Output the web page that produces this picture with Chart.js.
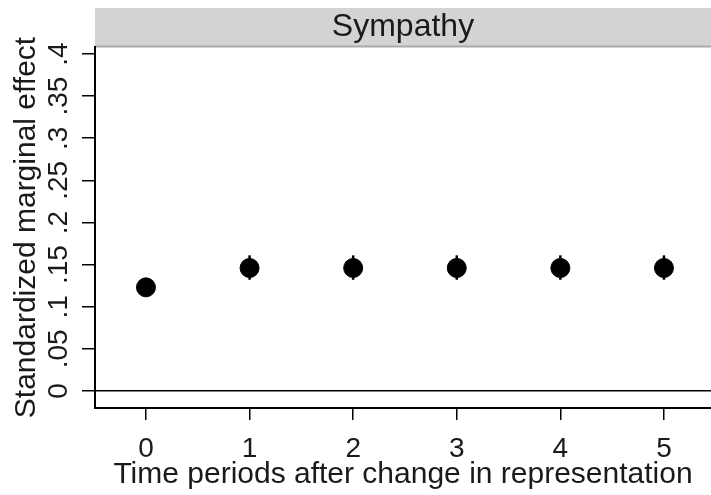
<!DOCTYPE html>
<html>
<head>
<meta charset="utf-8">
<script src="https://cdn.jsdelivr.net/npm/chart.js@4.4.0/dist/chart.umd.min.js"></script>
<style>
  html, body { margin: 0; padding: 0; background: #fff; }
  #wrap { width: 711px; height: 495px; }
</style>
</head>
<body>
<div id="wrap"><canvas id="chart" width="711" height="495"></canvas></div>
<script>
// Data
const periods = [0, 1, 2, 3, 4, 5];
const effect = [0.123, 0.146, 0.146, 0.146, 0.146, 0.146];
const lower = [0.119, 0.132, 0.132, 0.132, 0.132, 0.132];
const upper = [0.127, 0.161, 0.161, 0.161, 0.161, 0.161];
const yTicks = [0, 0.05, 0.1, 0.15, 0.2, 0.25, 0.3, 0.35, 0.4];
const yTickLabels = ["0", ".05", ".1", ".15", ".2", ".25", ".3", ".35", ".4"];
const panelTitle = "Sympathy";

const font = "Liberation Sans, Arial, sans-serif";
const ink = "#1a1a1a";

// Stata-like facet header above the plot region
const headerBand = {
  id: "headerBand",
  beforeDraw(chart) {
    const { ctx, chartArea } = chart;
    const w = chart.width - chartArea.left;
    ctx.save();
    ctx.fillStyle = "#d3d3d3";
    ctx.fillRect(chartArea.left, 8, w, 39);
    ctx.fillStyle = "#a9a9a9";
    ctx.fillRect(chartArea.left, 45.5, w, 2);
    ctx.fillStyle = ink;
    ctx.font = "32px " + font;
    ctx.textAlign = "center";
    ctx.textBaseline = "alphabetic";
    ctx.fillText(panelTitle, chartArea.left + w / 2, 36);
    ctx.restore();
  }
};

// rotated y tick labels + error bars
const extras = {
  id: "extras",
  afterDraw(chart) {
    const { ctx } = chart;
    const x = chart.scales.x, y = chart.scales.y;
    ctx.save();
    ctx.fillStyle = ink;
    ctx.font = "28px " + font;
    ctx.textAlign = "center";
    ctx.textBaseline = "alphabetic";
    yTicks.forEach((v, i) => {
      ctx.save();
      ctx.translate(67, y.getPixelForValue(v));
      ctx.rotate(-Math.PI / 2);
      ctx.fillText(yTickLabels[i], 0, 0);
      ctx.restore();
    });
    ctx.strokeStyle = "#000";
    ctx.lineWidth = 2.5;
    periods.forEach((p, i) => {
      const px = x.getPixelForValue(p);
      ctx.beginPath();
      ctx.moveTo(px, y.getPixelForValue(lower[i]));
      ctx.lineTo(px, y.getPixelForValue(upper[i]));
      ctx.stroke();
    });
    ctx.restore();
  }
};

new Chart(document.getElementById("chart"), {
  type: "scatter",
  data: {
    datasets: [{
      data: periods.map((p, i) => ({ x: p, y: effect[i] })),
      backgroundColor: "#000",
      borderColor: "#000",
      pointRadius: 9.5,
      pointHoverRadius: 9.5
    }]
  },
  options: {
    responsive: false,
    animation: false,
    events: [],
    layout: { autoPadding: false, padding: { top: 47, left: 0, right: 0, bottom: 0 } },
    plugins: { legend: { display: false }, tooltip: { enabled: false } },
    scales: {
      x: {
        type: "linear",
        min: -0.492,
        max: 5.454,
        afterBuildTicks: s => { s.ticks = periods.map(v => ({ value: v })); },
        afterFit: s => { s.height = 87; s.paddingLeft = 0; s.paddingRight = 0; },
        grid: { display: true, drawOnChartArea: false, color: "#000", tickLength: 12, lineWidth: 1.5 },
        border: { display: true, color: "#000", width: 2 },
        ticks: { color: ink, font: { family: font, size: 28 }, padding: 12 },
        title: { display: true, text: "Time periods after change in representation", color: ink,
                 font: { family: font, size: 30 }, padding: { top: 0, bottom: 2 } }
      },
      y: {
        min: -0.0202,
        max: 0.4083,
        afterBuildTicks: s => { s.ticks = yTicks.map(v => ({ value: v })); },
        afterFit: s => { s.width = 95; },
        grid: {
          color: c => (c.tick && c.tick.value === 0 ? "#000" : "rgba(0,0,0,0)"),
          tickColor: "#000",
          tickLength: 13,
          lineWidth: 1.5
        },
        border: { display: true, color: "#000", width: 2 },
        ticks: { display: false },
        title: { display: true, text: "Standardized marginal effect", color: ink,
                 font: { family: font, size: 30 }, padding: { top: 9, bottom: 0 } }
      }
    }
  },
  plugins: [headerBand, extras]
});
</script>
</body>
</html>
